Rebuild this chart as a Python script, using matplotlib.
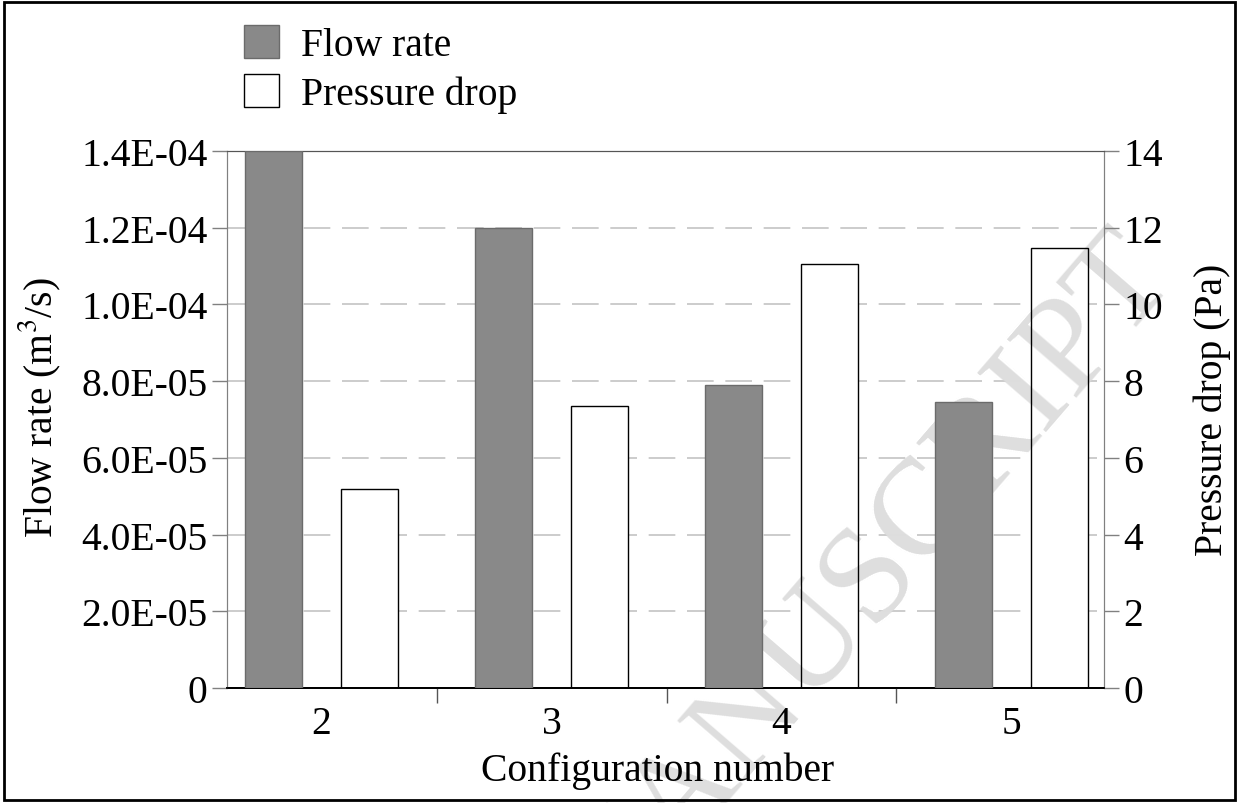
import matplotlib
matplotlib.use("Agg")
import matplotlib.pyplot as plt
import numpy as np
from matplotlib.patches import Patch, Rectangle
import matplotlib.ticker as ticker

# data
configs = ["2", "3", "4", "5"]
flow_rate = [1.40e-04, 1.20e-04, 7.90e-05, 7.46e-05]     # m^3/s
pressure_drop = [5.19, 7.35, 11.05, 11.47]               # Pa

plt.rcParams["font.family"] = ["Liberation Serif", "DejaVu Serif"]
plt.rcParams["mathtext.fontset"] = "stix"
FS = 28.5
WM_COLOR = "#dedede"

fig = plt.figure(figsize=(12.39, 8.04), dpi=100)
ax1 = fig.add_axes([0.1832, 0.143, 0.7078, 0.668])
ax2 = ax1.twinx()
# pressure-drop axes underneath, flow-rate axes on top
ax2.set_zorder(1)
ax1.set_zorder(2)
ax1.patch.set_visible(False)

x = np.arange(len(configs))
width = 0.248
off = 0.209

# white bars: fill, then watermark, then outline
ax2.bar(x + off, pressure_drop, width, color="white", linewidth=0, zorder=1)
ax2.bar(x + off, pressure_drop, width, facecolor="none", edgecolor="black",
        linewidth=1.0, zorder=2)
ax1.bar(x - off, flow_rate, width, color="#898989", edgecolor="#6b6b6b",
        linewidth=1.0, zorder=3)

ax1.set_xlim(-0.411, 3.402)
ax1.set_ylim(0, 1.4e-04)
ax2.set_ylim(0, 14)
ax1.set_yticks(np.arange(0, 1.41e-04, 2e-05))
ax2.set_yticks(np.arange(0, 15, 2))

ax1.yaxis.set_major_formatter(
    ticker.FuncFormatter(lambda v, _: "0" if abs(v) < 1e-12 else f"{v:.1E}"))

# grid (dashed, light grey) lives on the lower axes so the bars hide it
ax2.yaxis.grid(True, linestyle=(0, (16, 7)), color="#c4c4c4", linewidth=1.2)
ax2.set_axisbelow(True)

# x ticks: labels at centres, tick marks between categories
ax1.set_xticks(x)
ax1.set_xticklabels(configs)
ax1.set_xticks([0.5, 1.5, 2.5], minor=True)
ax1.tick_params(axis="x", which="major", length=0, labelsize=FS, pad=12)
ax1.tick_params(axis="x", which="minor", length=11, width=1.0, color="#555555")
ax1.tick_params(axis="y", length=11, width=1.0, color="#808080", labelsize=FS, pad=3)
ax2.tick_params(axis="y", length=11, width=1.0, color="#808080", labelsize=FS, pad=3)

for a in (ax1, ax2):
    a.spines["left"].set_color("#808080")
    a.spines["right"].set_color("#808080")
    a.spines["top"].set_color("#555555")
    a.spines["bottom"].set_color("black")
    a.spines["bottom"].set_linewidth(1.3)

ax1.set_xlabel("Configuration number", fontsize=FS, labelpad=7)
ax1.set_ylabel("Flow rate (m$^3$/s)", fontsize=FS, labelpad=13)
ax2.set_ylabel("Pressure drop (Pa)", fontsize=FS, labelpad=22)
ax1.xaxis.label.set_x(0.4915)
ax1.yaxis.label.set_y(0.524)
ax2.yaxis.label.set_y(0.519)

handles = [Patch(facecolor="#898989", edgecolor="#6b6b6b", label="Flow rate"),
           Patch(facecolor="white", edgecolor="black", label="Pressure drop")]
fig.legend(handles=handles, loc="upper left", bbox_to_anchor=(0.168, 1.012),
           frameon=False, fontsize=FS, handlelength=0.9, handleheight=0.9,
           handletextpad=0.55, labelspacing=0.25)

# faint watermark: one copy behind everything, one inside the plot over the white bars
wm = dict(fontsize=99, color=WM_COLOR, rotation=49.2, ha="right", va="baseline",
          rotation_mode="anchor")
fig.text(0.951, 0.653, "ACCEPTED MANUSCRIPT", zorder=-1, **wm)
ax2.text(0.951, 0.653, "ACCEPTED MANUSCRIPT", transform=fig.transFigure,
         zorder=1.5, clip_on=True, **wm)

# frame around the whole figure
fig.add_artist(Rectangle((0.003, 0.004), 0.994, 0.992, transform=fig.transFigure,
                         fill=False, edgecolor="black", linewidth=2))

fig.savefig("out.png", dpi=100)
